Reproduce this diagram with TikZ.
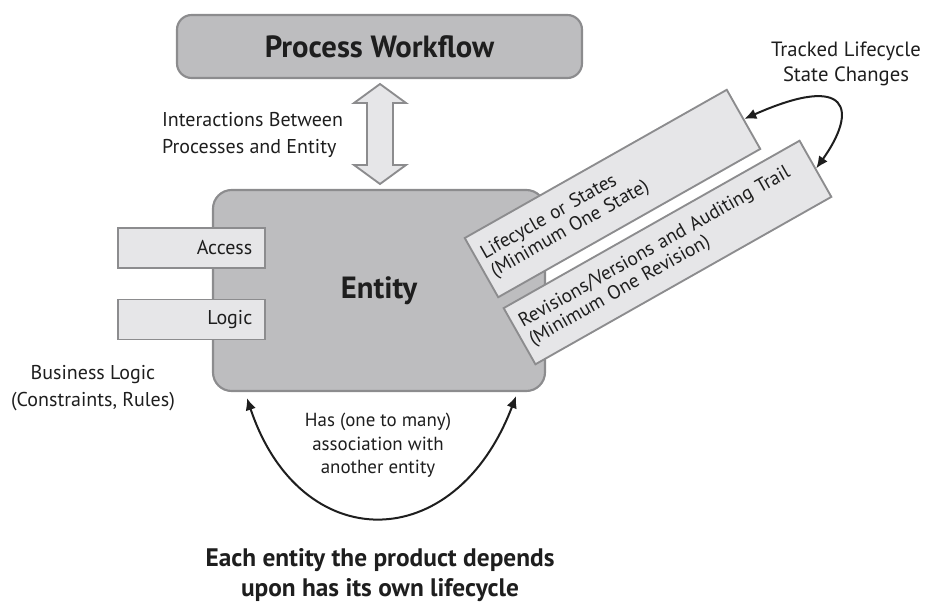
\documentclass[tikz,border=0pt]{standalone}
\usepackage{fontspec}
\setmainfont{PT Sans}
\usetikzlibrary{arrows.meta,calc}

\definecolor{boxgray}{RGB}{189,189,191}
\definecolor{tabgray}{RGB}{230,230,232}
\definecolor{edgegray}{RGB}{140,140,142}
\definecolor{ink}{RGB}{30,30,30}

\begin{document}
\begin{tikzpicture}[x=0.75pt,y=-0.75pt,
  bigbox/.style={draw=edgegray, fill=boxgray, line width=1.6pt, rounded corners=11pt},
  tab/.style={draw=edgegray, fill=tabgray, line width=1.4pt},
  lbl/.style={font=\fontsize{15}{20.25}\selectfont, text=ink, align=center},
  heading/.style={font=\fontsize{23}{27}\selectfont\bfseries, text=ink},
  tiltlbl/.style={font=\fontsize{14.5}{15.5}\selectfont, text=ink, align=left},
  link/.style={line width=1.5pt, draw=ink,
    {Latex[length=9pt,width=8pt]}-{Latex[length=9pt,width=8pt]}}
]
\useasboundingbox (0,0) rectangle (926,606);

% process workflow box
\node[bigbox, heading, minimum width=303.75pt, minimum height=47.25pt]
  (proc) at (379.5,46.5) {Process Workflow};

% double block arrow between process and entity
\draw[tab, line join=miter] (380,84) -- (406,103) -- (393,103) -- (393,165) -- (406,165)
  -- (380,184) -- (354,165) -- (367,165) -- (367,103) -- (354,103) -- cycle;
\node[lbl, align=left] (inter) at (252.5,134.5) {Interactions Between\\Processes and Entity};

% entity box
\node[bigbox, heading, rounded corners=14pt, minimum width=249pt, minimum height=150.75pt]
  (ent) at (379,290.5) {Entity};

% access and logic tabs
\node[tab, lbl, align=right, text width=91.25pt, inner xsep=9.5pt, minimum height=30pt]
  (acc) at (191.5,248) {Access};
\node[tab, lbl, align=right, text width=91.25pt, inner xsep=9.5pt, minimum height=30pt]
  (logic) at (191.5,319.5) {Logic};
\node[lbl] (biz) at (93,388.5) {Business Logic\\(Constraints, Rules)};

% tilted lifecycle and revision boxes
\node[tab, tiltlbl, rotate=29.5, text width=215pt, inner xsep=5.4pt, minimum height=51pt]
  (life) at (612.5,193.5) {Lifecycle or States\\(Minimum One State)};
\node[tab, tiltlbl, rotate=29.5, text width=244pt, inner xsep=5.5pt, minimum height=48.4pt]
  (rev) at (667.5,252.5) {Revisions/Versions and Auditing Trail\\(Minimum One Revision)};

\node[lbl, font=\fontsize{15.5}{19}\selectfont] (track) at (846,64)
  {Tracked Lifecycle\\State Changes};
\draw[link] (life.east) .. controls (850,72) and (858,110) .. (rev.east);

% association loop under the entity
\draw[link] ($(ent.south west)+(35,6)$) .. controls (300,557) and (455,557)
  .. ($(ent.south east)+(-30,4)$);
\node[lbl, font=\fontsize{14.2}{17.6}\selectfont] (assoc) at (378,445.5)
  {Has (one to many)\\association with\\another entity};

\node[lbl, font=\fontsize{19}{22.5}\selectfont\bfseries] (note) at (380,575)
  {Each entity the product depends\\upon has its own lifecycle};
\end{tikzpicture}
\end{document}
